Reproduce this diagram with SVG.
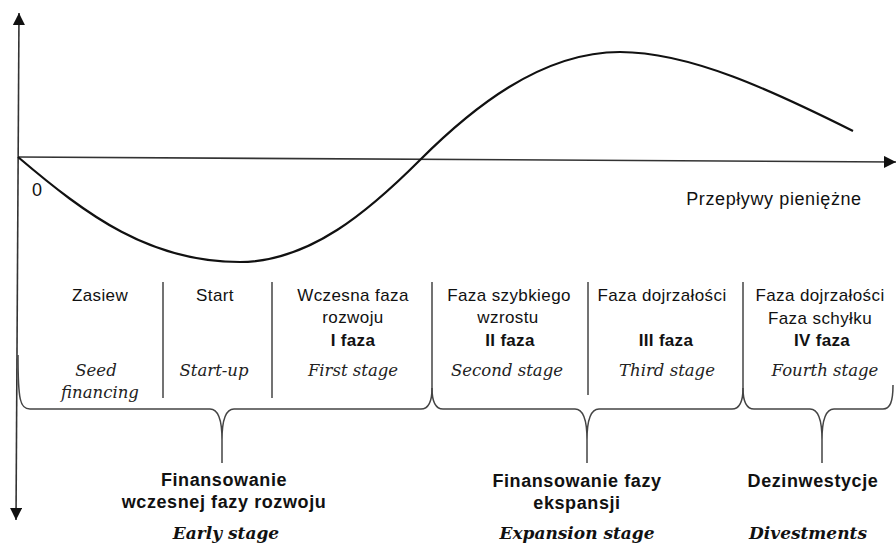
<svg xmlns="http://www.w3.org/2000/svg" width="896" height="543" viewBox="0 0 896 543">
<defs>
<marker id="arr" viewBox="0 0 10 10" refX="10" refY="5" markerWidth="12" markerHeight="12" markerUnits="userSpaceOnUse" orient="auto-start-reverse">
<path d="M0,0 L10,5 L0,10 z" fill="#111"/>
</marker>
<style>
.ax{stroke:#333;stroke-width:1.6;fill:none}
.sep{stroke:#444;stroke-width:1.5;fill:none}
.br{stroke:#444;stroke-width:1.5;fill:none}
.cv{stroke:#111;stroke-width:2.2;fill:none}
.s{font-family:"Liberation Sans",Arial,sans-serif;font-size:17px;letter-spacing:0.4px;fill:#111;text-anchor:middle}
.b{font-family:"Liberation Sans",Arial,sans-serif;font-size:17px;font-weight:bold;letter-spacing:0.3px;fill:#111;text-anchor:middle}
.bb{font-family:"Liberation Sans",Arial,sans-serif;font-size:18px;font-weight:bold;letter-spacing:0.6px;fill:#111;text-anchor:middle}
.i{font-family:"DejaVu Serif",serif;font-size:16.5px;font-style:italic;fill:#222;text-anchor:middle}
.bi{font-family:"DejaVu Serif",serif;font-size:17px;font-style:italic;font-weight:bold;fill:#111;text-anchor:middle}
</style>
</defs>
<rect width="896" height="543" fill="#fff"/>
<g id="axes">
<line class="ax" x1="16" y1="520" x2="19" y2="13" marker-start="url(#arr)" marker-end="url(#arr)"/>
<line class="ax" x1="18" y1="157" x2="896" y2="162" marker-end="url(#arr)"/>
<text x="37" y="196" style="font-family:'Liberation Sans',Arial,sans-serif;font-size:18px;fill:#111;text-anchor:middle">0</text>
<text x="774" y="205" style="font-family:'Liberation Sans',Arial,sans-serif;font-size:18px;letter-spacing:0.6px;fill:#111;text-anchor:middle">Przepływy pieniężne</text>
</g>
<g id="curve">
<path class="cv" d="M18,157 C88,216.5 150,262 240,262 C310,262 370,210 420,160 C470,110 540,52 620,52 C690,52 773,91 853,131"/>
</g>
<g id="connectors">
<line class="sep" x1="163" y1="282" x2="163" y2="398"/>
<line class="sep" x1="272" y1="282" x2="272" y2="398"/>
<line class="sep" x1="432" y1="282" x2="432" y2="388"/>
<line class="sep" x1="588" y1="282" x2="588" y2="395"/>
<line class="sep" x1="743" y1="282" x2="743" y2="388"/>
<path class="br" d="M18,355 C18,400 20,409 30,409 L210,409 C218,409 222,418 222,440 L222,463 M222,440 C222,418 226,409 234,409 L421,409 C429,409 432,402 432,388"/>
<path class="br" d="M432,388 C432,402 435,409 443,409 L575,409 C583,409 587,418 587,440 L587,463 M587,440 C587,418 591,409 599,409 L732,409 C740,409 743,402 743,388"/>
<path class="br" d="M743,388 C743,402 746,409 754,409 L810,409 C818,409 822,418 822,440 L822,463 M822,440 C822,418 826,409 834,409 L883,409 C890,409 893,402 893,385"/>
</g>
<g id="seed">
<text class="s" x="100" y="301">Zasiew</text>
<text class="i" x="96" y="376">Seed</text>
<text class="i" x="100" y="398">financing</text>
</g>
<g id="startup">
<text class="s" x="215" y="301">Start</text>
<text class="i" x="214" y="376">Start-up</text>
</g>
<g id="first">
<text class="s" x="353" y="301">Wczesna faza</text>
<text class="s" x="353" y="323">rozwoju</text>
<text class="b" x="353" y="346">I faza</text>
<text class="i" x="353" y="376">First stage</text>
</g>
<g id="second">
<text class="s" x="509" y="301">Faza szybkiego</text>
<text class="s" x="508" y="323">wzrostu</text>
<text class="b" x="510" y="346">II faza</text>
<text class="i" x="507" y="376">Second stage</text>
</g>
<g id="third">
<text class="s" x="662" y="301">Faza dojrzałości</text>
<text class="b" x="666" y="346">III faza</text>
<text class="i" x="667" y="376">Third stage</text>
</g>
<g id="fourth">
<text class="s" x="820" y="301">Faza dojrzałości</text>
<text class="s" x="820" y="324">Faza schyłku</text>
<text class="b" x="822" y="346">IV faza</text>
<text class="i" x="825" y="376">Fourth stage</text>
</g>
<g id="early">
<text class="bb" x="224" y="486">Finansowanie</text>
<text class="bb" x="224" y="508">wczesnej fazy rozwoju</text>
<text class="bi" x="226" y="539">Early stage</text>
</g>
<g id="expansion">
<text class="bb" x="577" y="487">Finansowanie fazy</text>
<text class="bb" x="577" y="509">ekspansji</text>
<text class="bi" x="577" y="539">Expansion stage</text>
</g>
<g id="divest">
<text class="bb" x="813" y="487">Dezinwestycje</text>
<text class="bi" x="808" y="539">Divestments</text>
</g>
</svg>
